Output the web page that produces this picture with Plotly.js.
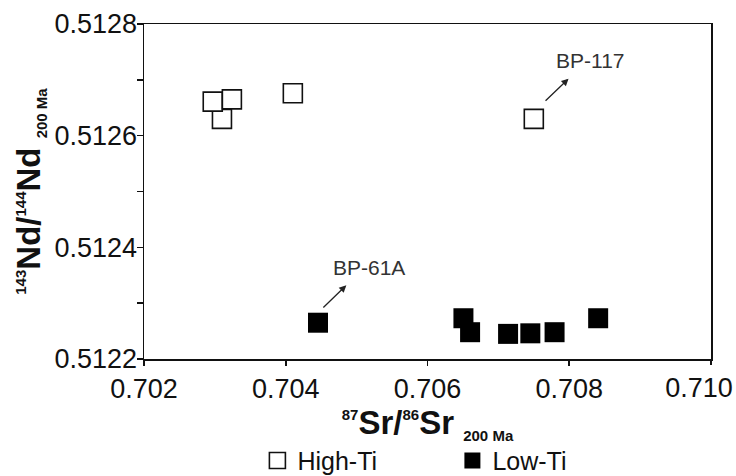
<!DOCTYPE html>
<html>
<head>
<meta charset="utf-8">
<script src="https://cdn.plot.ly/plotly-3.0.1.min.js"></script>
<style>html,body{margin:0;padding:0;background:#fff;}</style>
</head>
<body>
<div id="chart" style="width:736px;height:476px;"></div>
<script>
// High-Ti samples (open squares)
const highTiSr = [0.70310, 0.70297, 0.70324, 0.70410, 0.70750];
const highTiNd = [0.512630, 0.512661, 0.512665, 0.512676, 0.512630];
// Low-Ti samples (filled squares)
const lowTiSr = [0.704455, 0.706507, 0.706601, 0.707137, 0.707451, 0.707793, 0.708408];
const lowTiNd = [0.512265, 0.512273, 0.512248, 0.512245, 0.512246, 0.512248, 0.512273];
// Axis ticks (last x tick drawn on an overlay axis so its label can sit inside the page)
const xTickVals = [0.702, 0.704, 0.706, 0.708];
const xTickText = ['0.702', '0.704', '0.706', '0.708'];
const xEndTickVals = [0.710];
const xEndTickText = ['0.710'];
const yTickVals = [0.5122, 0.5124, 0.5126, 0.5128];
const yTickText = ['0.5122', '0.5124', '0.5126', '0.5128'];
// Labelled samples
const labelNames = ['BP-117', 'BP-61A'];
const labelSr = [0.70830, 0.70518];
const labelNd = [0.512734, 0.512363];
const arrowHeadSr = [0.70799, 0.704855];
const arrowHeadNd = [0.512702, 0.512332];

const FONT = 'Arial, "Liberation Sans", sans-serif';
const sup = s => '<sup><span style="font-size:15px">' + s + '</span></sup>';
const sub = s => '<sub><span style="font-size:15px">' + s + '</span></sub>';

const traces = [
  {
    type: 'scatter', mode: 'markers', name: 'High-Ti',
    x: highTiSr, y: highTiNd,
    marker: {symbol: 'square', size: 19, color: '#ffffff', line: {color: '#111', width: 1.6}},
    cliponaxis: false
  },
  {
    type: 'scatter', mode: 'markers', name: 'Low-Ti',
    x: lowTiSr, y: lowTiNd,
    marker: {symbol: 'square', size: 20, color: '#000000', line: {color: '#000', width: 0}},
    cliponaxis: false
  },
  {
    // empty helper trace so the overlay axis carrying the last tick is drawn
    type: 'scatter', mode: 'markers', x: [], y: [], xaxis: 'x2', yaxis: 'y',
    showlegend: false, hoverinfo: 'skip'
  }
];

const annotations = [];
labelNames.forEach((n, i) => {
  annotations.push({
    x: labelSr[i], y: labelNd[i], xref: 'x', yref: 'y', text: n, showarrow: false,
    font: {family: FONT, size: 21, color: '#333'}
  });
  annotations.push({
    x: arrowHeadSr[i], y: arrowHeadNd[i], xref: 'x', yref: 'y', text: ' ',
    showarrow: true, ax: -26, ay: 25, arrowhead: 2, arrowsize: 1.1, arrowwidth: 1.3,
    arrowcolor: '#222', standoff: 0, startstandoff: 0
  });
});

const xRange = [0.702, 0.7100001];

const layout = {
  width: 736, height: 476,
  margin: {l: 144, r: 25, t: 24, b: 117, autoexpand: false},
  paper_bgcolor: '#fff', plot_bgcolor: '#fff',
  font: {family: FONT, color: '#111'},
  showlegend: true,
  legend: {
    orientation: 'h', x: 0.2, xanchor: 'left', y: -0.235, yanchor: 'top',
    font: {family: FONT, size: 25, color: '#111'}, entrywidth: 150,
    tracegroupgap: 0
  },
  xaxis: {
    range: xRange, tickvals: xTickVals, ticktext: xTickText,
    ticks: 'outside', ticklen: 5, tickwidth: 1.5, tickcolor: '#111',
    showline: true, linewidth: 1.5, linecolor: '#111', mirror: true,
    showgrid: false, zeroline: false, automargin: false,
    tickfont: {family: FONT, size: 27, color: '#111'},
    title: {
      text: sup('87') + 'Sr/' + sup('86') + 'Sr ' + sub('200 Ma'),
      font: {family: FONT, size: 33, color: '#111', weight: 'bold'},
      standoff: 6
    }
  },
  xaxis2: {
    overlaying: 'x', anchor: 'y', side: 'bottom', range: xRange,
    tickvals: xEndTickVals, ticktext: xEndTickText,
    ticks: 'outside', ticklen: 5, tickwidth: 1.5, tickcolor: '#111',
    ticklabelshift: -12, ticklabeloverflow: 'allow',
    showline: false, showgrid: false, zeroline: false, automargin: false,
    tickfont: {family: FONT, size: 27, color: '#111'}
  },
  yaxis: {
    range: [0.5122, 0.5128], tickvals: yTickVals, ticktext: yTickText,
    ticks: 'outside', ticklen: 6, tickwidth: 1.5, tickcolor: '#111',
    ticklabelstandoff: -6,
    minor: {dtick: 0.0001, tick0: 0.5122, ticks: 'outside', ticklen: 6, tickwidth: 1.5, tickcolor: '#111', showgrid: false},
    showline: true, linewidth: 1.5, linecolor: '#111', mirror: true,
    showgrid: false, zeroline: false, automargin: false,
    tickfont: {family: FONT, size: 27, color: '#111'},
    title: {
      text: sup('143') + 'Nd/' + sup('144') + 'Nd ' + sub('200 Ma'),
      font: {family: FONT, size: 33, color: '#111', weight: 'bold'},
      standoff: 4
    }
  },
  annotations: annotations
};

Plotly.newPlot('chart', traces, layout, {displayModeBar: false, staticPlot: true});
</script>
</body>
</html>
